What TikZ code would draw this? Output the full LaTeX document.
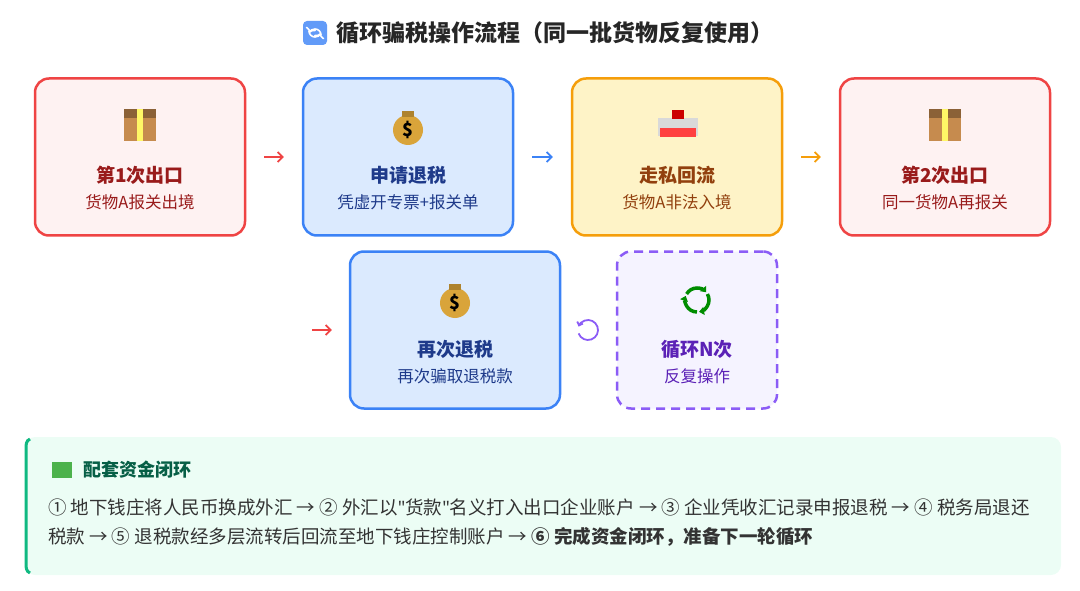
\documentclass[tikz,border=0pt]{standalone}
\usepackage{fontspec}
\setmainfont{Noto Sans CJK SC}
\newfontfamily\latinfont{Noto Sans}
\usetikzlibrary{calc}
\usetikzlibrary{positioning}
\usetikzlibrary{arrows.meta}
\definecolor{redline}{HTML}{EF4444}
\definecolor{redfill}{HTML}{FEF2F2}
\definecolor{redtext}{HTML}{991B1B}
\definecolor{blueline}{HTML}{3B82F6}
\definecolor{bluefill}{HTML}{DBEAFE}
\definecolor{bluetext}{HTML}{1E3A8A}
\definecolor{orangeline}{HTML}{F59E0B}
\definecolor{orangefill}{HTML}{FEF3C7}
\definecolor{orangetext}{HTML}{92400E}
\definecolor{purpleline}{HTML}{8B5CF6}
\definecolor{purplefill}{HTML}{F5F3FF}
\definecolor{purpletext}{HTML}{5B21B6}
\definecolor{greenline}{HTML}{10B981}
\definecolor{greenfill}{HTML}{ECFDF5}
\definecolor{greentext}{HTML}{065F46}
\definecolor{bodytext}{HTML}{333333}
\definecolor{boxbrown}{HTML}{C68B4E}
\definecolor{baggold}{HTML}{D9A43A}
\newcommand{\pkgicon}[1]{%
  \fill[boxbrown] ($(#1)+(-16,-16)$) rectangle ($(#1)+(16,16)$);
  \fill[boxbrown!70!black] ($(#1)+(-16,-16)$) rectangle ($(#1)+(16,-7)$);
  \fill[yellow!60!white] ($(#1)+(-3,-16)$) rectangle ($(#1)+(3,16)$);}
\newcommand{\bagicon}[1]{%
  \fill[baggold] ($(#1)+(0,3)$) circle (15);
  \fill[baggold!80!black] ($(#1)+(-6,-16)$) rectangle ($(#1)+(6,-10)$);
  \node[font=\bfseries\fontsize{18}{18}\selectfont] at ($(#1)+(0,3)$) {\$};}
\newcommand{\q}{{\latinfont\symbol{34}}}
\begin{document}
\begin{tikzpicture}[x=1pt,y=-1pt,
    step style/.style={rectangle,rounded corners=14pt,line width=2.5pt,
      minimum width=210pt,minimum height=157pt},
    flow arrow/.style={-{Straight Barb[length=5pt,width=10pt]},line width=1.6pt},
    head style/.style={font=\bfseries\fontsize{19}{22}\selectfont},
    sub style/.style={font=\fontsize{16.5}{19}\selectfont}
  ]
  \useasboundingbox (0,0) rectangle (1080,591);
  \node[font=\bfseries\fontsize{23}{26}\selectfont,text=black!85] (title) at (555,33) {循环骗税操作流程（同一批货物反复使用）};
  \fill[blueline!80,rounded corners=4pt] (303,21) rectangle (327,45);
  \draw[white,line width=1.6pt,->] (309,31) arc (180:20:6);
  \draw[white,line width=1.6pt,->] (321,35) arc (0:-160:6);

  \node[step style,draw=redline,fill=redfill] (exp1) at (140,157) {};
  \node[step style,draw=blueline,fill=bluefill] (refund) at (408,157) {};
  \node[step style,draw=orangeline,fill=orangefill] (smuggle) at (677,157) {};
  \node[step style,draw=redline,fill=redfill] (exp2) at (945,157) {};
  \node[step style,draw=blueline,fill=bluefill] (refund2) at (455,330) {};
  \node[step style,draw=purpleline,fill=purplefill,dashed,dash pattern=on 9pt off 6pt,minimum width=160pt] (loop) at (697,330) {};

  % labels
  \node[head style,text=redtext] at (140,175) {第1次出口};
  \node[sub style,text=redtext] at (140,202) {货物A报关出境};
  \node[head style,text=bluetext] at (408,175) {申请退税};
  \node[sub style,text=bluetext] at (408,202) {凭虚开专票+报关单};
  \node[head style,text=orangetext] at (677,175) {走私回流};
  \node[sub style,text=orangetext] at (677,202) {货物A非法入境};
  \node[head style,text=redtext] at (945,175) {第2次出口};
  \node[sub style,text=redtext] at (945,202) {同一货物A再报关};
  \node[head style,text=bluetext] at (455,349) {再次退税};
  \node[sub style,text=bluetext] at (455,376) {再次骗取退税款};
  \node[head style,text=purpletext] at (697,349) {循环N次};
  \node[sub style,text=purpletext] at (697,376) {反复操作};

  % icons
  \pkgicon{140,125}
  \bagicon{408,127}
  \pkgicon{945,125}
  \bagicon{455,300}
  \fill[gray!30] (658,118) rectangle (698,136);
  \fill[red!75] (660,128) rectangle (696,137);
  \fill[red!80!black] (672,110) rectangle (684,119);
  \draw[green!55!black,line width=3.5pt,-{Triangle[length=5pt,width=8pt]}] (697,300) ++(90:12) arc (90:200:12);
  \draw[green!55!black,line width=3.5pt,-{Triangle[length=5pt,width=8pt]}] (697,300) ++(210:12) arc (210:320:12);
  \draw[green!55!black,line width=3.5pt,-{Triangle[length=5pt,width=8pt]}] (697,300) ++(330:12) arc (330:440:12);

  % connectors
  \draw[flow arrow,redline] ([xshift=18]exp1.east) -- ([xshift=-18]refund.west);
  \draw[flow arrow,blueline] ([xshift=18]refund.east) -- ([xshift=-18]smuggle.west);
  \draw[flow arrow,orangeline] ([xshift=18]smuggle.east) -- ([xshift=-18]exp2.west);
  \coordinate (back) at (312,330);
  \draw[flow arrow,redline] (back) -- ([xshift=-17]refund2.west);
  \draw[purpleline,line width=1.8pt,-{Straight Barb[length=3pt,width=6pt]}] (588,330) ++(160:10) arc (160:-160:10);

  % funding panel
  \fill[greenfill,rounded corners=10pt] (25,437) rectangle (1061,575);
  \draw[greenline,line width=3pt] (30,439) to[out=200,in=90] (26,450) -- (26,562) to[out=270,in=160] (30,573);
  \fill[green!40!gray] (52,462) rectangle (72,478);
  \node[anchor=west,font=\bfseries\fontsize{18}{20}\selectfont,text=greentext] (fund) at (80,470) {配套资金闭环};
  \node[anchor=north west,align=left,text=bodytext,font=\fontsize{18.5}{29}\selectfont,inner sep=0pt] (steps) at (48,499)
    {① 地下钱庄将人民币换成外汇 → ② 外汇以\q 货款\q 名义打入出口企业账户 → ③ 企业凭收汇记录申报退税 → ④ 税务局退还\\
     税款 → ⑤ 退税款经多层流转后回流至地下钱庄控制账户 → \textbf{⑥ 完成资金闭环，准备下一轮循环}};
\end{tikzpicture}
\end{document}
